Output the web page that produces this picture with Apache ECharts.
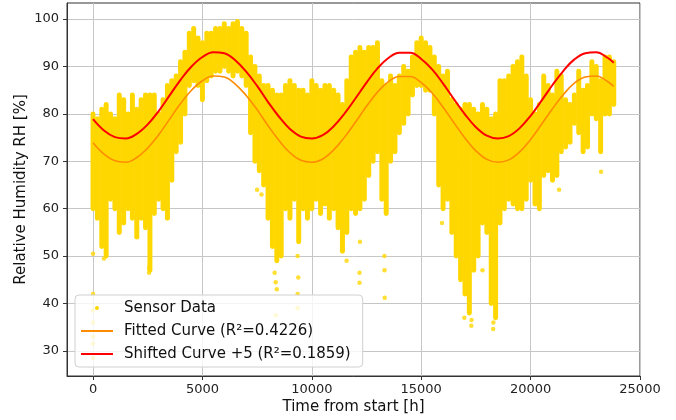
<!DOCTYPE html>
<html>
<head>
<meta charset="utf-8">
<script src="https://cdn.jsdelivr.net/npm/echarts@6/dist/echarts.min.js"></script>
<style>
  html, body { margin: 0; padding: 0; background: #fff; }
  #chart { width: 676px; height: 420px; }
</style>
</head>
<body>
<div id="chart"></div>
<script>
// sensor readings, binned every 200 h: low / high edge of the dense cloud
const sensorTime = [0,200,400,600,800,1000,1200,1400,1600,1800,2000,2200,2400,2600,2800,3000,3200,3400,3600,3800,
  4000,4200,4400,4600,4800,5000,5200,5400,5600,5800,6000,6200,6400,6600,6800,7000,7200,7400,7600,7800,
  8000,8200,8400,8600,8800,9000,9200,9400,9600,9800,10000,10200,10400,10600,10800,11000,11200,11400,11600,11800,
  12000,12200,12400,12600,12800,13000,13200,13400,13600,13800,14000,14200,14400,14600,14800,15000,15200,15400,15600,15800,
  16000,16200,16400,16600,16800,17000,17200,17400,17600,17800,18000,18200,18400,18600,18800,19000,19200,19400,19600,19800,
  20000,20200,20400,20600,20800,21000,21200,21400,21600,21800,22000,22200,22400,22600,22800,23000,23200,23400,23600,23800];
const sensorLow = [60,58,52,50,62,60,55,57,60,58,54,58,56,47,59,62,60,58,66,72,
  74,80,86,87,86,83,87,88,89,89,90,89,88,89,88,86,76,70,68,65,
  58,52,49,50,60,58,62,53,60,58,60,62,59,61,58,60,56,51,55,60,
  59,60,62,67,70,72,62,59,70,72,76,78,80,84,86,86,85,85,80,65,
  60,62,55,50,45,42,38,47,50,57,55,40,37,57,60,62,61,60,60,62,
  66,61,60,67,68,66,67,72,73,74,78,76,72,73,80,79,72,80,80,82];
const sensorHigh = [80,79,81,82,80,79,84,83,80,84,81,83,84,84,84,80,83,86,87,88,
  91,93,97,98,96,95,97,97,98,98,99,98,99,99.5,98,97,92,90,88,86,
  86,85,84,84,86,87,86,85,85,84,87,86,85,86,86,85,84,82,87,92,
  93,94,93,94,94,95,87,86,88,86,88,90,89,92,95,96,95,94,92,90,
  88,89,83,82,81,82,82,81,80,82,81,79,80,87,87,88,90,91,92,88,
  83,80,82,88,86,84,89,88,83,82,84,89,85,86,91,90,87,92,92,91];
// isolated readings away from the cloud
const outlierTime = [0,0,0,0,0,0,0,500,2560,2560,7500,7700,8300,8350,8400,8350,9350,9380,9350,9350,
  11590,12180,12180,12200,13320,13320,13330,15950,16970,17290,17300,17800,18290,18300,21300,23220];
const outlierValue = [50.5,42,38.5,36,33,31.5,28.5,49.5,46.5,47.5,64,63,46.5,44.5,43,37.5,50,45.5,42,39,
  49,46.5,44.4,53,50,47,41.2,57,37,35.3,36.5,47,34.6,36,64,67.8];

// fitted sinusoid, every 500 h
const curveTime = [0,500,1000,1500,2000,2500,3000,3500,4000,4500,5000,5500,6000,6500,7000,7500,8000,8500,9000,9500,
  10000,10500,11000,11500,12000,12500,13000,13500,14000,14500,15000,15500,16000,16500,17000,17500,18000,18500,19000,19500,
  20000,20500,21000,21500,22000,22500,23000,23500,23800];
const fittedValue = [73.9,71.5,70.1,69.8,70.8,72.8,75.6,78.9,82.2,85.0,87.0,88.0,87.8,86.3,83.9,80.9,77.5,74.4,71.8,70.2,
  69.8,70.5,72.4,75.1,78.3,81.6,84.6,86.8,87.9,87.9,86.6,84.4,81.4,78.1,74.9,72.2,70.4,69.8,70.3,72.0,
  74.6,77.8,81.1,84.1,86.5,87.8,88.0,86.9,85.8];
const shiftedValue = [78.9,76.5,75.1,74.8,75.8,77.8,80.6,83.9,87.2,90.0,92.0,93.0,92.8,91.3,88.9,85.9,82.5,79.4,76.8,75.2,
  74.8,75.5,77.4,80.1,83.3,86.6,89.6,91.8,92.9,92.9,91.6,89.4,86.4,83.1,79.9,77.2,75.4,74.8,75.3,77.0,
  79.6,82.8,86.1,89.1,91.5,92.8,93.0,91.9,90.8];

const xTicks = [0, 5000, 10000, 15000, 20000, 25000];
const yTicks = [30, 40, 50, 60, 70, 80, 90, 100];

const binWidth = 200;
const gold = '#FFD700';
const font = 'DejaVu Sans';

const chart = echarts.init(document.getElementById('chart'));

const option = {
  animation: false,
  backgroundColor: '#fff',
  grid: { left: 67, top: 3, right: 36, bottom: 44, show: true, borderColor: '#333', borderWidth: 1 },
  xAxis: {
    type: 'value', min: -1190, max: 25000,
    name: 'Time from start [h]', nameLocation: 'middle', nameGap: 24, nameMoveOverlap: false,
    nameTextStyle: { fontFamily: font, fontSize: 15, color: '#111' },
    axisLine: { show: true, onZero: false, lineStyle: { color: '#333' } },
    axisTick: { show: true, length: 4, customValues: xTicks, lineStyle: { color: '#333' } },
    axisLabel: { customValues: xTicks, margin: 7, fontFamily: font, fontSize: 13, color: '#222',
      formatter: v => String(v) },
    splitLine: { show: true, lineStyle: { color: '#c6c6c6' } }
  },
  yAxis: {
    type: 'value', min: 24.7, max: 103.4,
    name: 'Relative Humidity RH [%]', nameLocation: 'middle', nameGap: 38, nameMoveOverlap: false,
    nameTextStyle: { fontFamily: font, fontSize: 15, color: '#111' },
    axisLine: { show: true, onZero: false, lineStyle: { color: '#333' } },
    axisTick: { show: true, length: 4, customValues: yTicks, lineStyle: { color: '#333' } },
    axisLabel: { customValues: yTicks, margin: 8, fontFamily: font, fontSize: 13, color: '#222',
      formatter: v => String(v) },
    splitLine: { show: true, lineStyle: { color: '#c6c6c6' } }
  },
  legend: {
    left: 75, top: 295, orient: 'vertical',
    padding: [5, 12, 5, 5], itemGap: 7, itemWidth: 32, itemHeight: 4,
    backgroundColor: 'rgba(255,255,255,0.8)', borderColor: '#d0d0d0', borderWidth: 1, borderRadius: 4,
    textStyle: { fontFamily: font, fontSize: 15, color: '#111', lineHeight: 16, padding: [0, 0, 0, 6] },
    data: [
      { name: 'Sensor Data', icon: 'circle', itemStyle: { color: gold } },
      { name: 'Fitted Curve (R²=0.4226)', itemStyle: { opacity: 0 } },
      { name: 'Shifted Curve +5 (R²=0.1859)', itemStyle: { opacity: 0 } }
    ]
  },
  series: [
    {
      name: 'Sensor Data', type: 'custom', z: 2,
      itemStyle: { color: gold },
      data: sensorTime.map((t, i) => [t, sensorLow[i], sensorHigh[i]]),
      encode: { x: 0, y: [1, 2] },
      renderItem: function (params, api) {
        const top = api.coord([api.value(0), api.value(2)]);
        const bot = api.coord([api.value(0), api.value(1)]);
        const w = api.size([binWidth, 0])[0];
        return {
          type: 'line',
          shape: { x1: top[0], y1: top[1], x2: bot[0], y2: bot[1] },
          style: { stroke: gold, lineWidth: w + 0.6, lineCap: 'round' }
        };
      }
    },
    {
      name: 'Sensor Data', type: 'scatter', z: 2, symbolSize: 4.5,
      itemStyle: { color: gold },
      data: outlierTime.map((t, i) => [t, outlierValue[i]])
    },
    {
      name: 'Fitted Curve (R²=0.4226)', type: 'line', z: 3, smooth: 0.4, symbol: 'none',
      lineStyle: { color: '#FF8C00', width: 1.6 }, itemStyle: { color: '#FF8C00' },
      data: curveTime.map((t, i) => [t, fittedValue[i]])
    },
    {
      name: 'Shifted Curve +5 (R²=0.1859)', type: 'line', z: 4, smooth: 0.4, symbol: 'none',
      lineStyle: { color: '#FF0000', width: 2 }, itemStyle: { color: '#FF0000' },
      data: curveTime.map((t, i) => [t, shiftedValue[i]])
    }
  ]
};

chart.setOption(option);
</script>
</body>
</html>
